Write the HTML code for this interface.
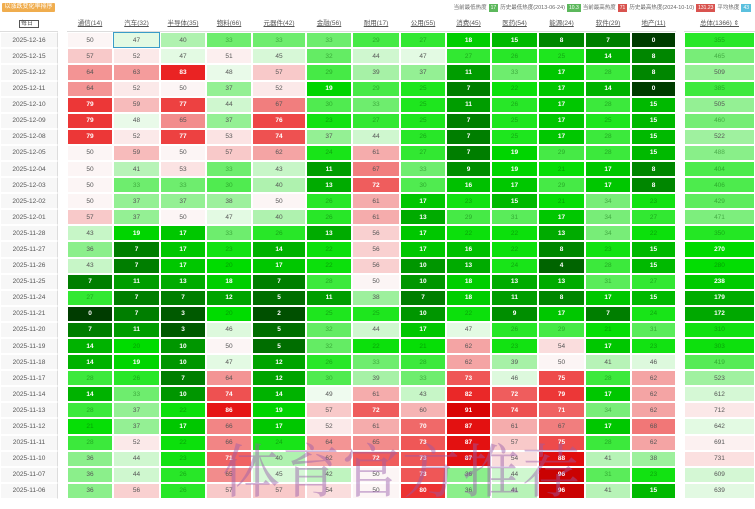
<!DOCTYPE html>
<html><head><meta charset="utf-8">
<style>
*{margin:0;padding:0;box-sizing:border-box}
body{width:755px;height:500px;overflow:hidden;background:#fff;font-family:"Liberation Sans","Noto Sans CJK SC",sans-serif;position:relative;color:#555}
.tag{position:absolute;left:2px;top:3px;width:53px;height:9px;background:#f0ad4e;color:#fff;font-size:6px;line-height:9px;text-align:center;border-radius:1px}
.leg{position:absolute;right:2px;top:4px;font-size:5.5px;color:#666;white-space:nowrap;line-height:8px}
.leg b{display:inline-block;color:#fff;padding:0 2px;margin:0 2px;font-weight:normal;font-size:5px}
.hdr,.r{position:absolute;left:0;width:755px;display:grid;grid-template-columns:58px 9px 46px 47px 46px 46px 54px 46px 48px 46px 45px 47px 47px 46px 45px 8px 71px}
.hdr{top:15px;height:17px;border-bottom:1px solid #ddd}
.hdr span{font-size:6.5px;text-align:center;line-height:17px;text-decoration:underline;color:#555}
.hdr .sel{text-decoration:none}
.hdr .sel em{display:inline-block;border:1px solid #555;width:20px;height:8px;line-height:7px;font-style:normal;font-size:6px;text-align:left;padding-left:1px;margin-top:4px}
.r{height:16.09px}
.r span{border:1px solid #fff;font-size:6.5px;text-align:center;display:flex;align-items:center;justify-content:center}
.r .d{background:#f7f7f7;color:#555;border-right:1px solid #ddd}
.r .g,.hdr .g{background:#fff}
#rows .r span.gp{border-left:1px solid #eee}
.wm{position:absolute;left:222px;top:425px;font-family:"Noto Serif CJK SC","Liberation Serif",serif;font-size:58px;color:rgba(150,90,170,0.45);letter-spacing:2px;white-space:nowrap}
</style></head><body>
<div class="tag">以涨跌变化率排序</div>
<div class="leg">当前最低热度<b style="background:#5cb85c">17</b>历史最低热度(2013-06-24)<b style="background:#5cb85c">10.3</b>当前最高热度<b style="background:#d9534f">71</b>历史最高热度(2024-10-10)<b style="background:#d9534f">131.23</b>平均热度<b style="background:#5bc0de">43</b></div>
<div class="hdr"><span class="sel"><em>每日</em></span><span class="g"></span><span>通信(14)</span><span>汽车(32)</span><span>半导体(35)</span><span>物料(66)</span><span>元器件(42)</span><span>金融(56)</span><span>耐用(17)</span><span>公用(55)</span><span>消费(45)</span><span>医药(54)</span><span>能源(24)</span><span>软件(29)</span><span>地产(11)</span><span class="g"></span><span>总体(1366) ⇕</span></div>
<div id="rows">
<div class="r" style="top:32.3px"><span class="d">2025-12-16</span><span class="g"></span><span>50</span><span style="border:1.5px solid #3a9cc8">47</span><span>40</span><span>33</span><span>33</span><span>33</span><span>29</span><span>27</span><span>18</span><span>15</span><span>8</span><span>7</span><span>0</span><span class="g"></span><span class="t">355</span></div>
<div class="r" style="top:48.39px"><span class="d">2025-12-15</span><span class="g"></span><span>57</span><span>52</span><span>47</span><span>51</span><span>45</span><span>32</span><span>44</span><span>47</span><span>27</span><span>26</span><span>25</span><span>14</span><span>8</span><span class="g"></span><span class="t">465</span></div>
<div class="r" style="top:64.48px"><span class="d">2025-12-12</span><span class="g"></span><span>64</span><span>63</span><span>83</span><span>48</span><span>57</span><span>29</span><span>39</span><span>37</span><span>11</span><span>33</span><span>17</span><span>28</span><span>8</span><span class="g"></span><span class="t">509</span></div>
<div class="r" style="top:80.57px"><span class="d">2025-12-11</span><span class="g"></span><span>64</span><span>52</span><span>50</span><span>37</span><span>52</span><span>19</span><span>29</span><span>25</span><span>7</span><span>22</span><span>17</span><span>14</span><span>0</span><span class="g"></span><span class="t">385</span></div>
<div class="r" style="top:96.66px"><span class="d">2025-12-10</span><span class="g"></span><span>79</span><span>59</span><span>77</span><span>44</span><span>67</span><span>30</span><span>33</span><span>25</span><span>11</span><span>26</span><span>17</span><span>28</span><span>15</span><span class="g"></span><span class="t">505</span></div>
<div class="r" style="top:112.75px"><span class="d">2025-12-09</span><span class="g"></span><span>79</span><span>48</span><span>65</span><span>37</span><span>76</span><span>23</span><span>27</span><span>25</span><span>7</span><span>25</span><span>17</span><span>25</span><span>15</span><span class="g"></span><span class="t">460</span></div>
<div class="r" style="top:128.84px"><span class="d">2025-12-08</span><span class="g"></span><span>79</span><span>52</span><span>77</span><span>53</span><span>74</span><span>37</span><span>44</span><span>26</span><span>7</span><span>25</span><span>17</span><span>28</span><span>15</span><span class="g"></span><span class="t">522</span></div>
<div class="r" style="top:144.93px"><span class="d">2025-12-05</span><span class="g"></span><span>50</span><span>59</span><span>50</span><span>57</span><span>62</span><span>24</span><span>61</span><span>27</span><span>7</span><span>19</span><span>29</span><span>28</span><span>15</span><span class="g"></span><span class="t">488</span></div>
<div class="r" style="top:161.02px"><span class="d">2025-12-04</span><span class="g"></span><span>50</span><span>41</span><span>53</span><span>33</span><span>43</span><span>11</span><span>67</span><span>33</span><span>9</span><span>19</span><span>21</span><span>17</span><span>8</span><span class="g"></span><span class="t">404</span></div>
<div class="r" style="top:177.11px"><span class="d">2025-12-03</span><span class="g"></span><span>50</span><span>33</span><span>33</span><span>30</span><span>40</span><span>13</span><span>72</span><span>30</span><span>16</span><span>17</span><span>29</span><span>17</span><span>8</span><span class="g"></span><span class="t">406</span></div>
<div class="r" style="top:193.2px"><span class="d">2025-12-02</span><span class="g"></span><span>50</span><span>37</span><span>37</span><span>38</span><span>50</span><span>26</span><span>61</span><span>17</span><span>23</span><span>15</span><span>21</span><span>34</span><span>23</span><span class="g"></span><span class="t">429</span></div>
<div class="r" style="top:209.29px"><span class="d">2025-12-01</span><span class="g"></span><span>57</span><span>37</span><span>50</span><span>47</span><span>40</span><span>26</span><span>61</span><span>13</span><span>29</span><span>31</span><span>17</span><span>34</span><span>27</span><span class="g"></span><span class="t">471</span></div>
<div class="r" style="top:225.38px"><span class="d">2025-11-28</span><span class="g"></span><span>43</span><span>19</span><span>17</span><span>33</span><span>26</span><span>13</span><span>56</span><span>17</span><span>22</span><span>22</span><span>13</span><span>34</span><span>22</span><span class="g"></span><span class="t">350</span></div>
<div class="r" style="top:241.47px"><span class="d">2025-11-27</span><span class="g"></span><span>36</span><span>7</span><span>17</span><span>23</span><span>14</span><span>22</span><span>56</span><span>17</span><span>16</span><span>22</span><span>8</span><span>23</span><span>15</span><span class="g"></span><span class="t">270</span></div>
<div class="r" style="top:257.56px"><span class="d">2025-11-26</span><span class="g"></span><span>43</span><span>7</span><span>17</span><span>20</span><span>17</span><span>22</span><span>56</span><span>10</span><span>13</span><span>24</span><span>4</span><span>28</span><span>15</span><span class="g"></span><span class="t">280</span></div>
<div class="r" style="top:273.65px"><span class="d">2025-11-25</span><span class="g"></span><span>7</span><span>11</span><span>13</span><span>18</span><span>7</span><span>28</span><span>50</span><span>10</span><span>18</span><span>13</span><span>13</span><span>31</span><span>27</span><span class="g"></span><span class="t">238</span></div>
<div class="r" style="top:289.74px"><span class="d">2025-11-24</span><span class="g"></span><span>27</span><span>7</span><span>7</span><span>12</span><span>5</span><span>11</span><span>38</span><span>7</span><span>18</span><span>11</span><span>8</span><span>17</span><span>15</span><span class="g"></span><span class="t">179</span></div>
<div class="r" style="top:305.83px"><span class="d">2025-11-21</span><span class="g"></span><span>0</span><span>7</span><span>3</span><span>20</span><span>2</span><span>25</span><span>25</span><span>10</span><span>22</span><span>9</span><span>17</span><span>7</span><span>24</span><span class="g"></span><span class="t">172</span></div>
<div class="r" style="top:321.92px"><span class="d">2025-11-20</span><span class="g"></span><span>7</span><span>11</span><span>3</span><span>46</span><span>5</span><span>32</span><span>44</span><span>17</span><span>47</span><span>26</span><span>29</span><span>21</span><span>31</span><span class="g"></span><span class="t">310</span></div>
<div class="r" style="top:338.01px"><span class="d">2025-11-19</span><span class="g"></span><span>14</span><span>20</span><span>10</span><span>50</span><span>5</span><span>32</span><span>22</span><span>21</span><span>62</span><span>23</span><span>54</span><span>17</span><span>23</span><span class="g"></span><span class="t">303</span></div>
<div class="r" style="top:354.1px"><span class="d">2025-11-18</span><span class="g"></span><span>14</span><span>19</span><span>10</span><span>47</span><span>12</span><span>26</span><span>33</span><span>28</span><span>62</span><span>39</span><span>50</span><span>41</span><span>46</span><span class="g"></span><span class="t">419</span></div>
<div class="r" style="top:370.19px"><span class="d">2025-11-17</span><span class="g"></span><span>28</span><span>26</span><span>7</span><span>64</span><span>12</span><span>30</span><span>39</span><span>33</span><span>73</span><span>46</span><span>75</span><span>28</span><span>62</span><span class="g"></span><span class="t">523</span></div>
<div class="r" style="top:386.28px"><span class="d">2025-11-14</span><span class="g"></span><span>14</span><span>33</span><span>10</span><span>74</span><span>14</span><span>49</span><span>61</span><span>43</span><span>82</span><span>72</span><span>79</span><span>17</span><span>62</span><span class="g"></span><span class="t">612</span></div>
<div class="r" style="top:402.37px"><span class="d">2025-11-13</span><span class="g"></span><span>28</span><span>37</span><span>22</span><span>86</span><span>19</span><span>57</span><span>72</span><span>60</span><span>91</span><span>74</span><span>71</span><span>34</span><span>62</span><span class="g"></span><span class="t">712</span></div>
<div class="r" style="top:418.46px"><span class="d">2025-11-12</span><span class="g"></span><span>21</span><span>37</span><span>17</span><span>66</span><span>17</span><span>52</span><span>61</span><span>70</span><span>87</span><span>61</span><span>67</span><span>17</span><span>68</span><span class="g"></span><span class="t">642</span></div>
<div class="r" style="top:434.55px"><span class="d">2025-11-11</span><span class="g"></span><span>28</span><span>52</span><span>22</span><span>66</span><span>24</span><span>64</span><span>65</span><span>73</span><span>87</span><span>57</span><span>75</span><span>28</span><span>62</span><span class="g"></span><span class="t">691</span></div>
<div class="r" style="top:450.64px"><span class="d">2025-11-10</span><span class="g"></span><span>36</span><span>44</span><span>23</span><span>71</span><span>40</span><span>62</span><span>72</span><span>73</span><span>87</span><span>54</span><span>88</span><span>41</span><span>38</span><span class="g"></span><span class="t">731</span></div>
<div class="r" style="top:466.73px"><span class="d">2025-11-07</span><span class="g"></span><span>36</span><span>44</span><span>26</span><span>65</span><span>45</span><span>42</span><span>50</span><span>73</span><span>36</span><span>44</span><span>96</span><span>31</span><span>23</span><span class="g"></span><span class="t">609</span></div>
<div class="r" style="top:482.82px"><span class="d">2025-11-06</span><span class="g"></span><span>36</span><span>56</span><span>26</span><span>57</span><span>57</span><span>54</span><span>50</span><span>80</span><span>36</span><span>41</span><span>96</span><span>41</span><span>15</span><span class="g"></span><span class="t">639</span></div>
</div>
<div class="wm">体育官方推荐</div>
<script>
var G=[[0,[0,60,0]],[5,[0,110,0]],[10,[0,150,0]],[15,[0,185,0]],[20,[0,220,0]],[25,[30,230,30]],[30,[80,235,80]],[35,[130,238,130]],[40,[175,242,175]],[45,[215,248,215]],[50,[245,252,245]]];
var R=[[50,[252,245,245]],[55,[250,215,215]],[60,[246,180,180]],[65,[242,140,140]],[70,[240,105,105]],[75,[238,75,75]],[80,[236,50,50]],[85,[232,25,25]],[90,[220,5,5]],[100,[190,0,0]]];
function interp(S,t){for(var i=0;i<S.length-1;i++){if(t>=S[i][0]&&t<=S[i+1][0]){var f=(t-S[i][0])/(S[i+1][0]-S[i][0]);return S[i][1].map(function(c,k){return Math.round(c+(S[i+1][1][k]-c)*f)});}}return S[S.length-1][1];}
document.querySelectorAll('#rows .r span').forEach(function(s){
 if(s.classList.contains('d')||s.classList.contains('g'))return;
 var v=parseFloat(s.textContent);var t=s.classList.contains('t')?v/13.66:v;
 var c=t<50?interp(G,t):interp(R,Math.min(t,100));
 s.style.background='rgb('+c.join(',')+')';
 if(t<20||t>=70){s.style.color='#fff';s.style.fontWeight='bold';}
 else if(t<36){s.style.color='rgba(0,90,0,0.45)';}
 else s.style.color='#555';
});
</script>
</body></html>
